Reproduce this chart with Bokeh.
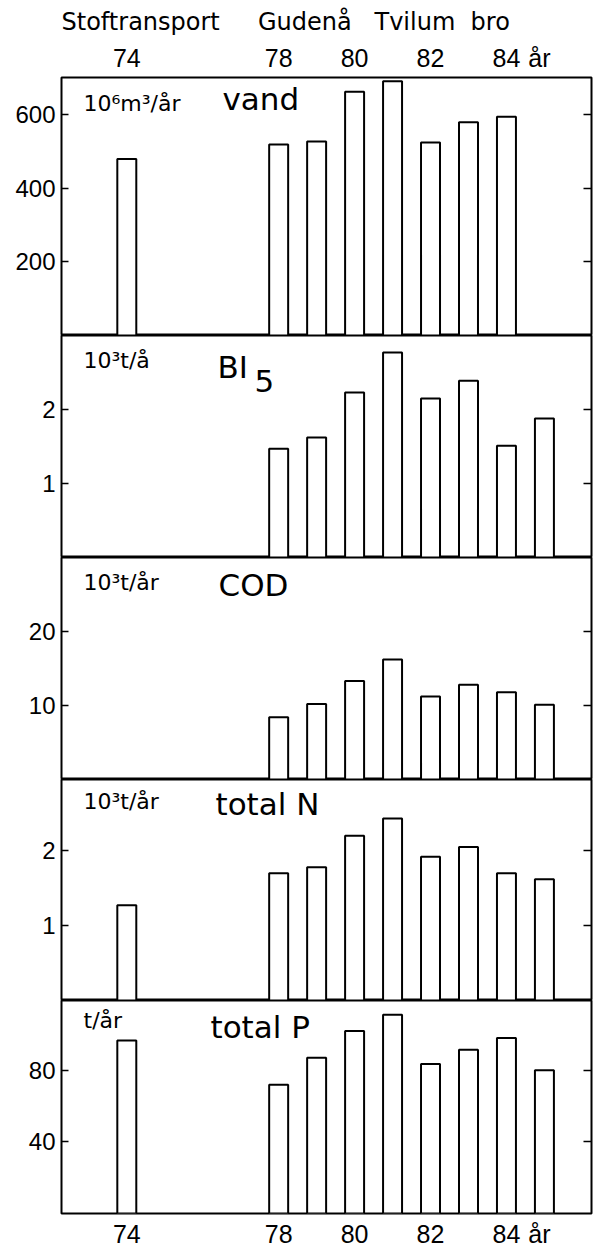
from bokeh.plotting import figure
from bokeh.models import Range1d, LinearAxis, FixedTicker, CustomJSTickFormatter, Label
from bokeh.layouts import column
from bokeh.embed import file_html
from bokeh.resources import INLINE

# ---------------- data ----------------
NB = "\u00a0"
title_text = "Stoftransport" + NB * 5 + "Gudenå" + NB * 3 + "Tvilum" + NB * 2 + "bro"
x_ticks = [74, 78, 80, 82, 84]
x_unit = "år"
x_unit_pos = 84.87

years_vand = [74, 78, 79, 80, 81, 82, 83, 84]
vand = [480, 520, 528, 663, 692, 525, 580, 595]

years_bi5 = [78, 79, 80, 81, 82, 83, 84, 85]
bi5 = [1.47, 1.62, 2.23, 2.77, 2.15, 2.39, 1.51, 1.88]

years_cod = [78, 79, 80, 81, 82, 83, 84, 85]
cod = [8.4, 10.2, 13.3, 16.2, 11.2, 12.8, 11.8, 10.1]

years_n = [74, 78, 79, 80, 81, 82, 83, 84, 85]
total_n = [1.27, 1.70, 1.78, 2.20, 2.43, 1.92, 2.05, 1.70, 1.62]

years_p = [74, 78, 79, 80, 81, 82, 83, 84, 85]
total_p = [96.7, 72, 87, 102, 111, 83.5, 91.5, 98, 80]

yticks_vand = [200, 400, 600]
yticks_bi5 = [1, 2]
yticks_cod = [10, 20]
yticks_n = [1, 2]
yticks_p = [40, 80]

units = ["10⁶m³/år", "10³t/å", "10³t/år", "10³t/år", "t/år"]
names = ["vand", "BI", "COD", "total N", "total P"]
name_sub_bi5 = "5"

# ---------------- layout ----------------
XMIN, XMAX = 72.28, 86.24
W = 599
BL, BR = 61, 8
FRAME_W = W - BL - BR
FONT = "DejaVu Sans"
NUM_FONT = "Liberation Sans"

def xpx(px):
    return XMIN + px / FRAME_W * (XMAX - XMIN)

def ypx(ymax, h, px_from_top):
    return ymax * (1 - px_from_top / h)

xr = Range1d(XMIN, XMAX)

panels = [
    dict(years=years_vand, vals=vand, ymax=702, ticks=yticks_vand, h=335, fh=260, top=67, bot=0,
         unit=(22, 26), name=(161, 22)),
    dict(years=years_bi5, vals=bi5, ymax=3.0, ticks=yticks_bi5, h=222, fh=222, top=0, bot=0,
         unit=(22, 25), name=(156, 31)),
    dict(years=years_cod, vals=cod, ymax=30, ticks=yticks_cod, h=222, fh=222, top=0, bot=0,
         unit=(22, 25), name=(157, 27)),
    dict(years=years_n, vals=total_n, ymax=2.95, ticks=yticks_n, h=221, fh=221, top=0, bot=0,
         unit=(22, 22), name=(154, 24)),
    dict(years=years_p, vals=total_p, ymax=119, ticks=yticks_p, h=250, fh=222, top=0, bot=28,
         unit=(22, 21), name=(149, 28)),
]

def make_xaxis():
    return LinearAxis(
        ticker=FixedTicker(ticks=x_ticks + [x_unit_pos]),
        formatter=CustomJSTickFormatter(
            code="return tick > 84.5 ? '%s' : tick.toFixed(0);" % x_unit),
        major_tick_line_color=None, minor_tick_line_color=None,
        axis_line_color=None,
        major_label_text_font=NUM_FONT,
        major_label_text_font_size="25px",
        major_label_text_color="black",
        major_label_standoff=0,
    )

figs = []
for i, pn in enumerate(panels):
    p = figure(width=W, height=pn["h"], x_range=xr, y_range=Range1d(0, pn["ymax"]),
               x_axis_type=None, y_axis_type=None,
               output_backend="svg", toolbar_location=None,
               min_border_left=BL, min_border_right=BR,
               min_border_top=pn["top"], min_border_bottom=pn["bot"])
    p.outline_line_color = "black"
    p.outline_line_width = 2
    p.background_fill_color = "white"
    p.border_fill_color = "white"

    ly = LinearAxis(ticker=FixedTicker(ticks=pn["ticks"]),
                    major_tick_in=7, major_tick_out=0,
                    minor_tick_line_color=None, axis_line_color=None,
                    major_tick_line_width=1.5,
                    major_label_text_font=NUM_FONT,
                    major_label_text_font_size="24px",
                    major_label_text_color="black",
                    major_label_standoff=6)
    p.add_layout(ly, "left")
    ry = LinearAxis(ticker=FixedTicker(ticks=pn["ticks"]),
                    formatter=CustomJSTickFormatter(code="return '';"),
                    major_tick_in=8, major_tick_out=0,
                    minor_tick_line_color=None, axis_line_color=None,
                    major_tick_line_width=1.5,
                    major_label_standoff=0)
    p.add_layout(ry, "right")

    if i == 0:
        p.add_layout(make_xaxis(), "above")
        p.title.text = title_text
        p.title.text_font = FONT
        p.title.text_font_size = "24px"
        p.title.text_font_style = "normal"
        p.title.text_color = "black"
        p.title.align = "left"
        p.title.standoff = 10
    if i == len(panels) - 1:
        p.add_layout(make_xaxis(), "below")

    p.vbar(x=pn["years"], top=pn["vals"], width=0.5, bottom=0,
           fill_color="white", line_color="black", line_width=2)

    ux, uy = pn["unit"]
    nx, ny = pn["name"]
    p.add_layout(Label(x=xpx(ux), y=ypx(pn["ymax"], pn["fh"], uy),
                       text=units[i], text_font=FONT, text_font_size="22px",
                       text_baseline="alphabetic", text_color="black"))
    p.add_layout(Label(x=xpx(nx), y=ypx(pn["ymax"], pn["fh"], ny),
                       text=names[i], text_font=FONT, text_font_size="31px",
                       text_baseline="alphabetic", text_color="black"))
    if i == 1:
        p.add_layout(Label(x=xpx(193), y=ypx(pn["ymax"], pn["fh"], 45),
                           text=name_sub_bi5, text_font=FONT, text_font_size="31px",
                           text_baseline="alphabetic", text_color="black"))
    figs.append(p)

layout = column(*figs, spacing=0)
open("out.html", "w").write(file_html(layout, INLINE))
